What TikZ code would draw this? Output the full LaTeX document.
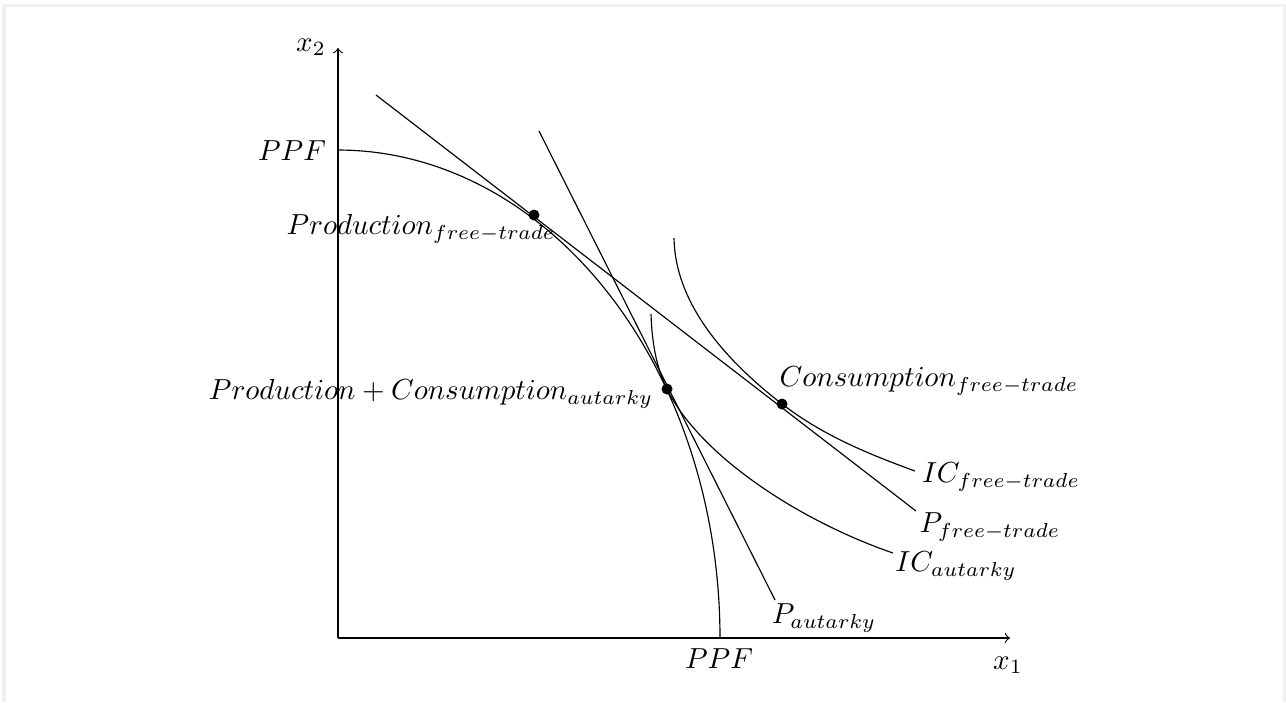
\documentclass[tikz,border=0pt]{standalone}
\begin{document}
\begin{tikzpicture}[x=0.345pt,y=-0.345pt,
  lab/.style={inner sep=0pt},
  dot/.style={fill=black,circle,inner sep=0pt,minimum size=3.8pt},
  curve/.style={draw=black,line width=0.4pt}]
\useasboundingbox (0,0) rectangle (1286,702);
\fill[gray!12] (2,4) rectangle (1286,702);
\fill[white] (6,7) rectangle (1283,702);
% axes
\coordinate (O) at (338,638);
\coordinate (Xend) at (1010,638);
\coordinate (Yend) at (338,48);
\draw[->] (O) -- (Xend);
\draw[->] (O) -- (Yend);
\node[lab] (x1) at (1008,665) {$x_1$};
\node[lab] (x2) at (311,47) {$x_2$};
% PPF
\draw[curve] plot[domain=0:90,samples=90,variable=\t] ({338+382*sin(\t)},{638-488*cos(\t)});
\node[lab] (ppfy) at (292,151) {$PPF$};
\node[lab] (ppfx) at (719,659) {$PPF$};
% key points
\coordinate (PF) at (534,215);
\coordinate (A) at (667,389);
\coordinate (CF) at (782,404);
% price lines
\coordinate (PFa) at (376,95);
\coordinate (PFb) at (916,511);
\coordinate (PAa) at (539,131);
\coordinate (PAb) at (775,600);
\draw[curve] (PFa) -- (PFb);
\draw[curve] (PAa) -- (PAb);
% indifference curves
\coordinate (ICAa) at (651,314);
\coordinate (ICAb) at (893,553);
\coordinate (ICFa) at (674,238);
\coordinate (ICFb) at (915,471);
\draw[curve] (ICAa) .. controls (652,345) and (657,368.7) .. (A)
  .. controls (700,456) and (800,521) .. (ICAb);
\draw[curve] (ICFa) .. controls (675,300) and (720,356) .. (CF)
  .. controls (820,433) and (860,451) .. (ICFb);
% dots
\node[dot] (dPF) at (PF) {};
\node[dot] (dA) at (A) {};
\node[dot] (dCF) at (CF) {};
% labels
\node[lab] (lPF) at (421,229) {$Production_{free-trade}$};
\node[lab] (lA) at (431,394) {$Production + Consumption_{autarky}$};
\node[lab] (lCF) at (929,381) {$Consumption_{free-trade}$};
\node[lab] (lICF) at (1001,477) {$IC_{free-trade}$};
\node[lab] (lPFt) at (990,527) {$P_{free-trade}$};
\node[lab] (lICA) at (956,566) {$IC_{autarky}$};
\node[lab] (lPA) at (824,618) {$P_{autarky}$};
\end{tikzpicture}
\end{document}
